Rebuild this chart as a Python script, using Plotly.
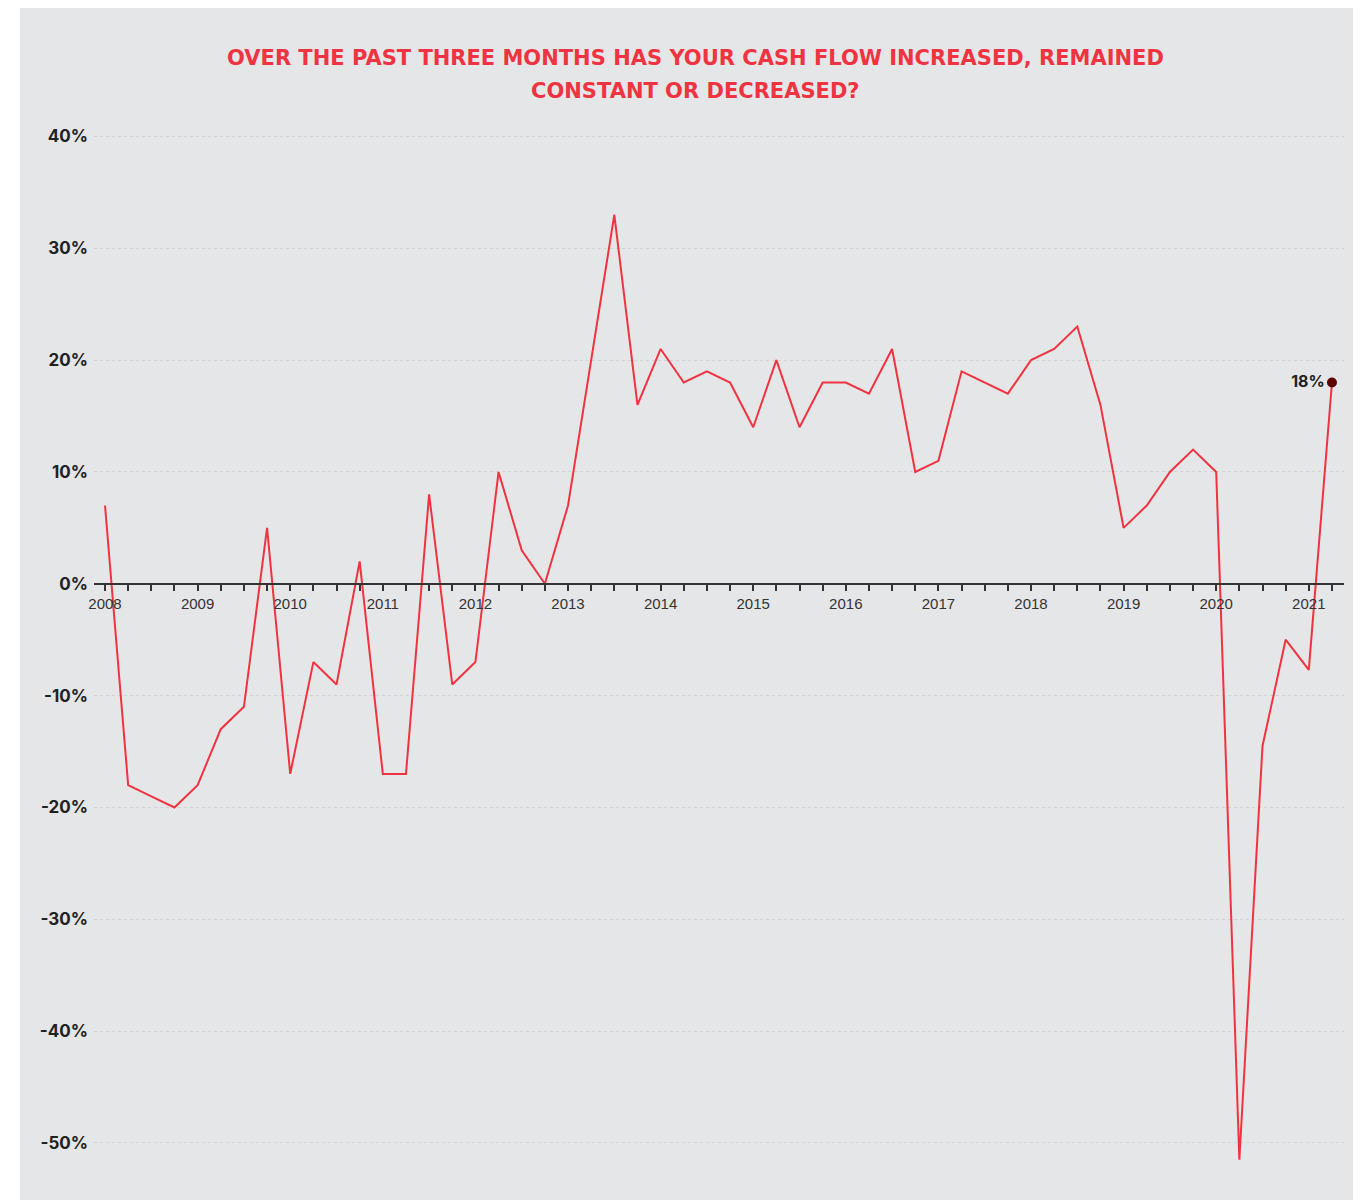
import plotly.graph_objects as go

# Quarterly survey results: net balance of firms reporting higher cash flow
start_year = 2008
quarter_count = 54  # 2008 Q1 .. 2021 Q2
net_balance = [
    7, -18, -19, -20,
    -18, -13, -11, 5,
    -17, -7, -9, 2,
    -17, -17, 8, -9,
    -7, 10, 3, 0,
    7, 20, 33, 16,
    21, 18, 19, 18,
    14, 20, 14, 18,
    18, 17, 21, 10,
    11, 19, 18, 17,
    20, 21, 23, 16,
    5, 7, 10, 12,
    10, -51.5, -14.5, -5,
    -7.7, 18,
]
year_labels = [str(y) for y in range(2008, 2022)]
y_ticks = [40, 30, 20, 10, 0, -10, -20, -30, -40, -50]
y_tick_text = ["40%", "30%", "20%", "10%", "0%", "-10%", "-20%", "-30%", "-40%", "-50%"]
latest_label = "18%"
title_lines = [
    "OVER THE PAST THREE MONTHS HAS YOUR CASH FLOW INCREASED, REMAINED",
    "CONSTANT OR DECREASED?",
]

# quarter positions on a decimal-year axis
x_pos = [start_year + q / 4 for q in range(quarter_count)]
tick_vals = x_pos
tick_text = [
    year_labels[int(x) - start_year] if q % 4 == 0 else ""
    for q, x in enumerate(x_pos)
]

W, H = 1371, 1200
ML, MR, MT, MB = 94, 27, 132, 0
PW, PH = W - ML - MR, H - MT - MB
Y_MIN, Y_MAX = -55.1, 40.4

RED = "#ef3340"
BG = "#e5e6e8"

fig = go.Figure()

fig.add_trace(go.Scatter(
    x=x_pos, y=net_balance, mode="lines",
    line=dict(color=RED, width=2),
    hoverinfo="x+y", showlegend=False,
))

fig.add_trace(go.Scatter(
    x=[x_pos[-1]], y=[net_balance[-1]], mode="markers+text",
    marker=dict(color="#5c0000", size=10),
    text=[latest_label], textposition="middle left",
    textfont=dict(family="Inter", size=16, color="#222222", weight=700),
    showlegend=False, cliponaxis=False,
))

# grey panel behind the chart
fig.add_shape(
    type="rect", xref="paper", yref="paper", layer="below",
    x0=(20 - ML) / PW, x1=(1353 - ML) / PW,
    y0=-0.01, y1=(H - 8 - MB) / PH,
    fillcolor=BG, line=dict(width=0),
)

for line, ypx in zip(title_lines, [58, 91]):
    fig.add_annotation(
        text=line, xref="paper", yref="paper",
        x=(695 - ML) / PW, y=(H - ypx - MB) / PH,
        xanchor="center", yanchor="middle", showarrow=False,
        font=dict(family="DejaVu Sans", size=21, color=RED, weight=700),
    )

fig.update_layout(
    width=W, height=H,
    margin=dict(l=ML, r=MR, t=MT, b=MB),
    paper_bgcolor="white",
    plot_bgcolor=BG,
    xaxis=dict(
        range=[2007.881, 2021.380],
        tickvals=tick_vals, ticktext=tick_text,
        showgrid=False, zeroline=False,
        showline=True, linecolor="#333333", linewidth=1.5,
        ticks="outside", ticklen=6, tickwidth=2, tickcolor="#333333",
        tickfont=dict(family="Liberation Sans", size=15, color="#333333"),
        anchor="free", position=(0 - Y_MIN) / (Y_MAX - Y_MIN),
    ),
    yaxis=dict(
        range=[Y_MIN, Y_MAX],
        tickvals=y_ticks, ticktext=y_tick_text,
        showgrid=True, gridcolor="#d2d3d5", griddash="dot", gridwidth=1,
        zeroline=False, showline=False, ticks="",
        ticklabelstandoff=5,
        tickfont=dict(family="Inter", size=17, color="#222222", weight=700),
    ),
)

fig.write_html("out.html")
